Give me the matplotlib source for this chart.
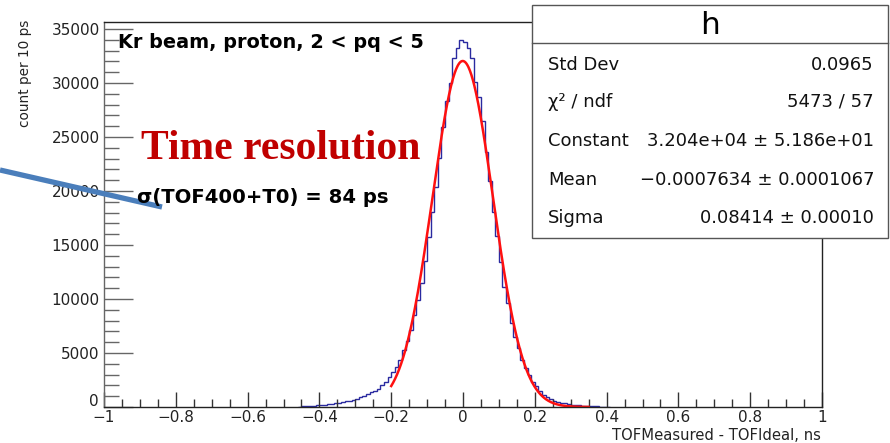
import numpy as np
import matplotlib
matplotlib.use("Agg")
import matplotlib.pyplot as plt
from matplotlib.patches import Rectangle
from matplotlib.lines import Line2D
from matplotlib.ticker import MultipleLocator

plt.rcParams['font.family'] = ['DejaVu Sans']

# ---------------- data ----------------
bin_width = 0.01
first_edge = -0.46
counts = [30, 50, 70, 90, 110, 140, 170, 200, 240, 280,
          330, 380, 440, 510, 590, 680, 780, 900, 1050, 1200,
          1350, 1500, 1700, 2000, 2350, 2800, 3250, 3750, 4350, 5250,
          6150, 7150, 8500, 9900, 11450, 13500, 15700, 18100, 20400, 23100,
          25900, 28300, 30000, 32300, 33200, 34000, 33800, 33200, 32300, 30100,
          28700, 26500, 23600, 20900, 18100, 15800, 13400, 11150, 9600, 7800,
          6500, 5450, 4350, 3600, 2950, 2350, 1950, 1450, 1100, 950,
          720, 580, 480, 400, 330, 270, 220, 180, 150, 120,
          100, 80, 60, 50, 40, 30, 20]

# fit (gaus) parameters from the stats box
fit_constant = 3.204e4
fit_mean = -0.0007634
fit_sigma = 0.08414
fit_range = (-0.2, 0.35)

stats_title = "h"
stats_labels = ["Std Dev", "χ² / ndf", "Constant", "Mean", "Sigma"]
stats_values = ["0.0965", "5473 / 57", "3.204e+04 ± 5.186e+01",
                "−0.0007634 ± 0.0001067", "0.08414 ± 0.00010"]

x_label = "TOFMeasured - TOFIdeal, ns"
y_label = "count per 10 ps"
title_text = "Kr beam, proton, 2 < pq < 5"
annot_big = "Time resolution"
annot_sigma = "σ(TOF400+T0) = 84 ps"

# ---------------- figure ----------------
W, H = 890, 443
fig = plt.figure(figsize=(W / 100, H / 100), dpi=100)

def fx(px):
    return px / W

def fy(py):
    return 1 - py / H

ax = fig.add_axes([fx(104), fy(407), fx(822) - fx(104), fy(22) - fy(407)])

edges = first_edge + bin_width * np.arange(len(counts) + 1)
ax.stairs(counts, edges, color='#2a2aa0', lw=1.0, baseline=0)

xf = np.linspace(fit_range[0], fit_range[1], 400)
yf = fit_constant * np.exp(-0.5 * ((xf - fit_mean) / fit_sigma) ** 2)
ax.plot(xf, yf, color='#ff1010', lw=1.8)

ax.set_xlim(-1, 1)
ax.set_ylim(0, 35650)

ax.xaxis.set_major_locator(MultipleLocator(0.2))
ax.xaxis.set_minor_locator(MultipleLocator(0.05))
ax.yaxis.set_major_locator(MultipleLocator(5000))
ax.yaxis.set_minor_locator(MultipleLocator(1000))

def xfmt(v, pos):
    if abs(v) < 1e-9:
        return "0"
    s = ("%.1f" % v) if abs(v - round(v)) > 1e-9 else ("%d" % round(v))
    return s.replace("-", "\u2212")

def yfmt(v, pos):
    # the "0" label is drawn separately, nudged up (as in ROOT)
    return "" if abs(v) < 1e-9 else "%d" % v

ax.xaxis.set_major_formatter(plt.FuncFormatter(xfmt))
ax.yaxis.set_major_formatter(plt.FuncFormatter(yfmt))

ax.tick_params(axis='x', which='major', direction='in', length=11, width=1,
               color='#333333', labelsize=11, pad=2.5, top=False)
ax.tick_params(axis='x', which='minor', direction='in', length=6, width=1,
               color='#333333', top=False)
ax.tick_params(axis='y', which='major', direction='in', length=21, width=1,
               color='#666666', labelsize=11, pad=3, right=False)
ax.tick_params(axis='y', which='minor', direction='in', length=11, width=1,
               color='#666666', right=False)
for lab in ax.get_xticklabels() + ax.get_yticklabels():
    lab.set_color('#222222')
for sp in ax.spines.values():
    sp.set_color('#222222')
    sp.set_linewidth(1.0)
ax.spines['left'].set_color('#666666')

fig.text(fx(99), fy(401), "0", ha='right', va='center', fontsize=11,
         color='#222222')

# axis titles (ROOT-style, at the ends)
fig.text(fx(821), fy(435.5), x_label, ha='right', va='center', fontsize=10.6,
         color='#222222')
fig.text(fx(25), fy(20), y_label, ha='center', va='top', rotation=90,
         fontsize=9.8, color='#222222')

# annotations
fig.text(fx(118), fy(43), title_text, ha='left', va='center', fontsize=13.9,
         fontweight='bold', color='black')
fig.text(fx(141), fy(149), annot_big, ha='left', va='center', fontsize=30,
         fontweight='bold', color='#c00000', family='Liberation Serif')
fig.text(fx(137), fy(197), annot_sigma, ha='left', va='center', fontsize=14.1,
         fontweight='bold', color='black')

fig.add_artist(Line2D([fx(0), fx(162)], [fy(170), fy(207)],
                      transform=fig.transFigure, color='#4a7ebb', lw=3.8,
                      solid_capstyle='butt'))

# stats box
bx0, by0, bx1, by1 = 532, 5, 888, 238
fig.add_artist(Rectangle((fx(bx0), fy(by1)), fx(bx1) - fx(bx0), fy(by0) - fy(by1),
                         transform=fig.transFigure, facecolor='white',
                         edgecolor='#555555', lw=1.0, zorder=5))
fig.add_artist(Line2D([fx(bx0), fx(bx1)], [fy(42.7), fy(42.7)],
                      transform=fig.transFigure, color='#555555', lw=1.0,
                      zorder=6))
fig.text(fx((bx0 + bx1) / 2), fy(25), stats_title, ha='center', va='center',
         fontsize=22.5, zorder=7)
row_y = [65, 102, 141.5, 180, 218]
for lab, val, yy in zip(stats_labels, stats_values, row_y):
    fig.text(fx(548), fy(yy), lab, ha='left', va='center', fontsize=13,
             zorder=7, color='#111111')
    fig.text(fx(874), fy(yy), val, ha='right', va='center', fontsize=13,
             zorder=7, color='#111111')

fig.savefig("out.png", dpi=100)
